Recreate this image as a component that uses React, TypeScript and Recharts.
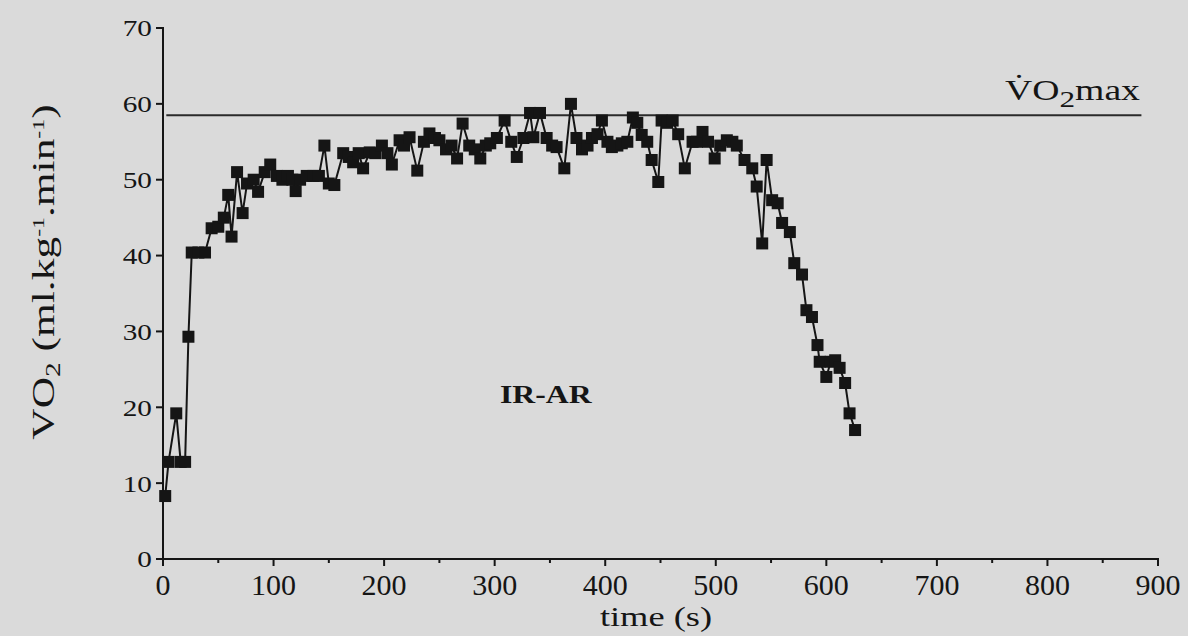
import { LineChart, Line, XAxis, YAxis, ReferenceLine } from "recharts"

// time (s) of each sample and the VO2 read at it
const TIME = [
  2, 5, 12, 16, 20, 23, 26, 32, 38, 44, 50, 55, 59, 62, 67, 72, 76, 82, 86, 92,
  97, 103, 108, 113, 117, 120, 124, 130, 136, 141, 146, 150, 155, 163, 168, 172, 177, 181, 187, 192,
  198, 203, 207, 214, 218, 223, 230, 236, 241, 246, 250, 256, 261, 266, 271, 277, 282, 287, 292, 296,
  302, 309, 315, 320, 326, 332, 335, 341, 347, 352, 356, 363, 369, 374, 379, 384, 388, 393, 397, 402,
  406, 411, 415, 420, 425, 429, 433, 438, 442, 448, 451, 456, 461, 466, 472, 479, 483, 488, 493, 499,
  504, 510, 515, 519, 526, 533, 537, 542, 546, 551, 556, 560, 567, 571, 578, 582, 587, 592, 594, 600,
  604, 608, 612, 617, 621, 626,
]
const VO2 = [
  8.3, 12.8, 19.2, 12.8, 12.8, 29.3, 40.4, 40.4, 40.4, 43.6, 43.8, 45, 48, 42.5, 51, 45.6, 49.5, 50, 48.4, 51,
  52, 50.5, 50, 50.5, 50, 48.5, 50, 50.5, 50.5, 50.5, 54.5, 49.5, 49.3, 53.5, 53, 52.3, 53.5, 51.5, 53.6, 53.5,
  54.5, 53.5, 52, 55.2, 54.5, 55.6, 51.2, 55, 56.1, 55.5, 55.2, 54, 54.5, 52.8, 57.4, 54.5, 54, 52.8, 54.5, 54.8,
  55.5, 57.8, 55, 53, 55.5, 58.8, 55.6, 58.8, 55.5, 54.5, 54.3, 51.5, 60, 55.5, 54, 54.5, 55.5, 56, 57.8, 55,
  54.3, 54.5, 54.8, 55, 58.2, 57.5, 55.9, 55, 52.6, 49.7, 57.8, 57.5, 57.8, 56, 51.5, 55, 55, 56.3, 55, 52.8,
  54.5, 55.2, 55, 54.5, 52.6, 51.5, 49.1, 41.6, 52.6, 47.3, 46.9, 44.3, 43.1, 39, 37.5, 32.8, 31.9, 28.2, 26, 24,
  26, 26.2, 25.2, 23.2, 19.2, 17,
]
const X_TICKS = [0, 50, 100, 150, 200, 250, 300, 350, 400, 450, 500, 550, 600, 650, 700, 750, 800, 850, 900]
const Y_TICKS = [0, 10, 20, 30, 40, 50, 60, 70]
const VO2_MAX = 58.5

const data = TIME.map((t, i) => ({ t, v: VO2[i] }))

const serif = "'Liberation Serif', 'DejaVu Serif', serif"
const ink = "#151515"

function XTick(props: any) {
  const { x, y, payload } = props
  const major = payload.value % 100 === 0
  return (
    <g>
      <line x1={x} x2={x} y1={y - 1} y2={y + (major ? 7 : 4)} stroke={ink} strokeWidth={2} />
      {major && (
        <text x={x} y={y + 36} textAnchor="middle" fontFamily={serif} fontSize={30} fill={ink}>
          {payload.value}
        </text>
      )}
    </g>
  )
}

function YTick(props: any) {
  const { x, y, payload } = props
  return (
    <g>
      <line x1={x - 7} x2={x + 1} y1={y} y2={y} stroke={ink} strokeWidth={2} />
      <text
        transform={`translate(${x - 11},${y}) scale(1.22,1)`}
        dy="0.35em"
        textAnchor="end"
        fontFamily={serif}
        fontSize={24}
        fill={ink}
      >
        {payload.value}
      </text>
    </g>
  )
}

function SquareDot(props: any) {
  const { cx, cy, index } = props
  return <rect key={index} x={cx - 6} y={cy - 6} width={12} height={12} fill={ink} />
}

export default function App() {
  return (
    <div style={{ position: "absolute", left: 0, top: 0, width: 1188, height: 636, overflow: "hidden", background: "#dadada", fontFamily: serif }}>
      <LineChart width={1188} height={636} data={data} margin={{ top: 28, right: 30, bottom: 0, left: 0 }}>
        <XAxis
          type="number"
          dataKey="t"
          domain={[0, 900]}
          ticks={X_TICKS}
          interval={0}
          height={77}
          tickSize={0}
          tickMargin={0}
          tickLine={false}
          axisLine={{ stroke: ink, strokeWidth: 2 }}
          tick={XTick}
        />
        <YAxis
          type="number"
          domain={[0, 70]}
          ticks={Y_TICKS}
          interval={0}
          width={163}
          tickSize={0}
          tickMargin={0}
          tickLine={false}
          axisLine={{ stroke: ink, strokeWidth: 2 }}
          tick={YTick}
        />
        <ReferenceLine
          segment={[{ x: 3, y: VO2_MAX }, { x: 885, y: VO2_MAX }]}
          stroke="#2a2a2a"
          strokeWidth={2}
        />
        <Line
          type="linear"
          dataKey="v"
          stroke={ink}
          strokeWidth={2}
          dot={SquareDot}
          activeDot={false}
          isAnimationActive={false}
        />
      </LineChart>

      <div style={{ position: "absolute", left: 1005, top: 74, fontSize: 29, color: ink, whiteSpace: "nowrap", transform: "scaleX(1.3)", transformOrigin: "left top" }}>
        V̇O<sub style={{ fontSize: 24, verticalAlign: "-0.3em" }}>2</sub>max
      </div>
      <div style={{ position: "absolute", left: 500, top: 381, fontSize: 25, fontWeight: "bold", color: ink, transform: "scaleX(1.27)", transformOrigin: "left top" }}>
        IR-AR
      </div>
      <div style={{ position: "absolute", left: 656, top: 602, lineHeight: "30px", transform: "translateX(-50%) scaleX(1.3)", fontSize: 28, color: ink, whiteSpace: "nowrap" }}>
        time (s)
      </div>
      <div
        style={{
          position: "absolute",
          left: 46,
          top: 272,
          transform: "translate(-50%, -50%) rotate(-90deg) scaleX(1.4)",
          fontSize: 31,
          color: ink,
          whiteSpace: "nowrap",
        }}
      >
        VO<sub style={{ fontSize: 21, verticalAlign: "-0.25em" }}>2</sub> (ml.kg<sup style={{ fontSize: 17, verticalAlign: "0.6em" }}>-1</sup>.min<sup style={{ fontSize: 17, verticalAlign: "0.6em" }}>-1</sup>)
      </div>
    </div>
  )
}
